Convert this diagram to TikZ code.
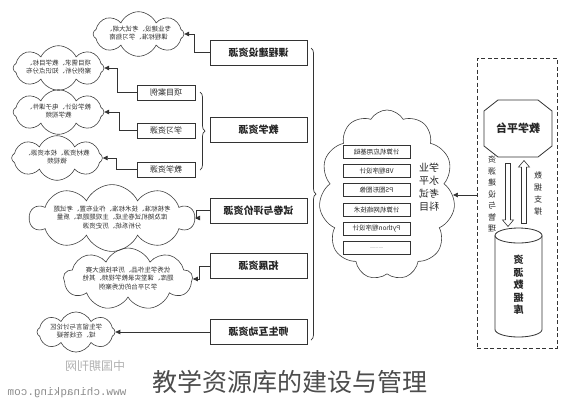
\documentclass[tikz,border=0pt]{standalone}
\usepackage{fontspec}
\setmainfont{Noto Sans CJK SC}
\newfontfamily\wmono{Liberation Mono}
\usetikzlibrary{shapes.symbols,shapes.geometric,shapes.arrows,arrows.meta,decorations.pathreplacing}
\newcommand\mr[1]{\reflectbox{#1}}
\newcommand\ml[1]{\reflectbox{\begin{tabular}{@{}c@{}}#1\end{tabular}}}
\tikzset{
 ln/.style={draw=black!80, line width=0.7pt},
 mainbox/.style={ln, rectangle, minimum width=97pt, minimum height=25pt, inner sep=0pt, font=\fontsize{10}{12}\selectfont\bfseries, text=black!85},
 subbox/.style={ln, rectangle, minimum width=58pt, minimum height=15pt, inner sep=0pt, font=\fontsize{8}{10}\selectfont, text=black!85},
 cl/.style={draw=black!75, line width=0.6pt, cloud, cloud puffs=8, cloud puff arc=130, cloud ignores aspect, inner sep=0pt, font=\fontsize{6.5}{8.5}\selectfont, text=black!80},
 arr/.style={ln, -{Triangle[length=5pt,width=4.5pt]}},
 inbox/.style={ln, line width=0.6pt, rectangle, minimum width=67pt, minimum height=13pt, inner sep=0pt, font=\fontsize{6.5}{8}\selectfont, text=black!85},
 sarr/.style={single arrow, draw=black!80, line width=0.6pt, minimum height=63pt, inner sep=2.2pt, single arrow head extend=3pt, single arrow tip angle=80},
 brc/.style={ln, decorate, decoration={brace, amplitude=5pt}},
}
\begin{document}
\begin{tikzpicture}[x=1pt,y=-1pt]
\useasboundingbox (0,0) rectangle (580,400);
\fill[white] (0,0) rectangle (580,400);

% main boxes
\node[mainbox] (b1) at (258.5,52.5) {\mr{课程建设资源}};
\node[mainbox] (b2) at (258.5,130) {\mr{教学资源}};
\node[mainbox] (b3) at (258.5,210.5) {\mr{试卷与评价资源}};
\node[mainbox] (b4) at (258.5,266) {\mr{拓展资源}};
\node[mainbox] (b5) at (258.5,332) {\mr{师生互动资源}};

% sub boxes
\node[subbox] (s1) at (166,92.5) {\mr{项目案例}};
\node[subbox] (s2) at (166,130.5) {\mr{学习资源}};
\node[subbox] (s3) at (166,169.5) {\mr{教学资源}};

% clouds
\node[cl, minimum width=83pt, minimum height=32pt] (c1) at (138.5,34) {\ml{专业建设、考试大纲、\\课程标准、学习指南}};
\node[cl, minimum width=83pt, minimum height=31pt] (c2) at (58.5,68) {\ml{项目需求、教学目标、\\案例分析、知识点分布}};
\node[cl, minimum width=83pt, minimum height=31pt] (c3) at (58.5,112) {\ml{教学设计、电子课件、\\教学视频}};
\node[cl, minimum width=80pt, minimum height=28pt] (c4) at (57,158) {\ml{教材资源、校本资源、\\微视频}};
\node[cl, cloud puffs=10, minimum width=155pt, minimum height=52pt] (c5) at (112,218) {\ml{考核标准、技术标准、作业布置、考试题\\库及随机试卷生成、主观题题库、质量\\分析系统、历史资源}};
\node[cl, cloud puffs=9, minimum width=122pt, minimum height=46pt] (c6) at (128,279) {\ml{优秀学生作品、历年技能大赛\\题库、课堂实录教学视频、其他\\学习平台的优秀案例}};
\node[cl, minimum width=78pt, minimum height=40pt] (c7) at (76,332) {\ml{学生留言与讨论区\\域、在线答疑}};

% connectors
\draw[arr] (b1.west) -- ++(-15,0) |- (c1.east);
\draw[arr] (s1.west) -- ++(-19,0) |- (c2.east);
\draw[arr] (s2.west) -- ++(-17,0) |- (c3.east);
\draw[arr] (s3.west) -- ++(-20,0) |- (c4.east);
\draw[arr] (b3.west) -- ++(-13,0) |- (c5.east);
\draw[arr] (b4.west) -- ++(-10,0) |- (c6.east);
\draw[arr] (b5.west) -- (c7.east);

% braces
\draw[brc] (200,92) -- (200,170);
\draw[brc] (311,48) -- (311,340);

% big cloud
\node[cl, cloud puffs=11, cloud puff arc=120, minimum width=136pt, minimum height=170pt] (bc) at (387,195) {};
\node[inbox] (k1) at (376.5,152) {\mr{计算机应用基础}};
\node[inbox] (k2) at (376.5,171) {\mr{VB程序设计}};
\node[inbox] (k3) at (376.5,190) {\mr{PS图形图像}};
\node[inbox] (k4) at (376.5,209.5) {\mr{计算机网络技术}};
\node[inbox] (k5) at (376.5,229) {\mr{Python程序设计}};
\node[inbox] (k6) at (376.5,248) {\mr{\fontsize{4}{5}\selectfont ............}};
\node[font=\fontsize{10}{13}\selectfont, text=black!85] (kl) at (429,188) {\ml{学业\\水平\\考试\\科目}};

% right dashed box
\node[draw=black!80, line width=0.8pt, dash pattern=on 4pt off 2.5pt, rectangle, minimum width=80pt, minimum height=290pt] (dbox) at (517,203) {};
\draw[arr] (dbox.west |- bc.east) -- (bc.east);

% platform octagon
\draw[ln, line width=0.8pt] (498,100) -- (538,100) -- (552,111) -- (552,146) -- (538,157) -- (498,157) -- (484,146) -- (484,111) -- cycle;
\node[font=\fontsize{11}{13}\selectfont\bfseries, text=black!85] (plat) at (518,128.5) {\mr{教学平台}};

% arrows
\node[sarr, rotate=-90] (a1) at (508,193.5) {};
\node[sarr, rotate=90] (a2) at (524,193.5) {};
\node[font=\fontsize{8}{11.5}\selectfont, text=black!85] (l1) at (492,195) {\ml{资\\源\\建\\设\\与\\管\\理}};
\node[font=\fontsize{8}{12}\selectfont, text=black!85] (l2) at (538,194) {\ml{数\\据\\支\\撑}};

% database cylinder
\draw[ln, line width=0.8pt] (495,235.5) -- (495,329.5) arc[start angle=180, end angle=0, x radius=23.5, y radius=7.5] -- (542,235.5);
\draw[ln, line width=0.8pt] (518.5,235.5) ellipse [x radius=23.5, y radius=7.5];
\node[font=\fontsize{10}{12.5}\selectfont\bfseries, text=black!85] (db) at (518.5,286) {\ml{资\\源\\数\\据\\库}};

% caption and watermarks
\node[font=\fontsize{25}{28}\selectfont, text=black!70] (cap) at (290,382) {教学资源库的建设与管理};
\node[font=\fontsize{12}{14}\selectfont, text=black!30] (wm1) at (95,366) {\mr{中国期刊网}};
\node[font=\wmono\fontsize{11}{13}\selectfont, text=black!45] (wm2) at (67,393) {\mr{www.chinaqking.com}};
\end{tikzpicture}
\end{document}
